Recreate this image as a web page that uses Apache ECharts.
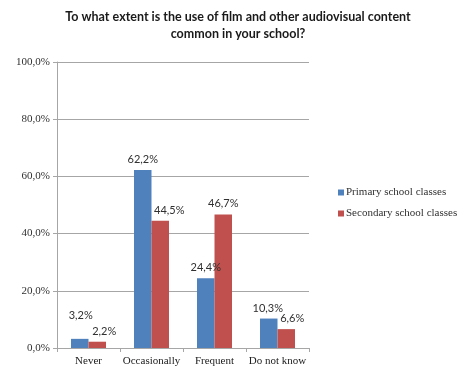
<!DOCTYPE html>
<html>
<head>
<meta charset="utf-8">
<script src="https://cdn.jsdelivr.net/npm/echarts@6/dist/echarts.min.js"></script>
<style>
  html, body { margin: 0; padding: 0; background: #fff; }
  #chart { width: 464px; height: 372px; }
</style>
</head>
<body>
<div id="chart"></div>
<script>
// Survey answers, share of respondents (%)
const categories = ['Never', 'Occasionally', 'Frequent', 'Do not know'];
const primaryValues = [3.2, 62.2, 24.4, 10.3];
const secondaryValues = [2.2, 44.5, 46.7, 6.6];
const seriesNames = ['Primary school classes', 'Secondary school classes'];
const yTicks = [0, 20, 40, 60, 80, 100];

// Hand-tuned value-label nudges (x, y in px) so neighbouring labels don't collide
const primaryLabelShift = [[1, -13], [0, 0], [0, 0], [-1, 0]];
const secondaryLabelShift = [[7, 0], [9, 0], [0, 0], [6, 0]];

const serifFont = '"Liberation Serif", "DejaVu Serif", serif';
const labelFont = 'Lato, "Open Sans", sans-serif';

const fmt = v => v.toFixed(1).replace('.', ',') + '%';

function barData(values, shifts) {
  return values.map((v, i) => ({ value: v, label: { offset: shifts[i] } }));
}

const valueLabel = {
  show: true, position: 'top', distance: 5,
  fontFamily: labelFont, fontSize: 11, color: '#303030',
  formatter: p => fmt(p.value)
};

const chart = echarts.init(document.getElementById('chart'));
chart.setOption({
  animation: false,
  title: {
    text: 'To what extent is the use of film and other audiovisual content\ncommon in your school?',
    left: 233,
    textAlign: 'center',
    top: 3,
    textStyle: {
      fontFamily: labelFont,
      fontWeight: 'bold',
      fontSize: 12.5,
      lineHeight: 17,
      color: '#1a1a1a'
    }
  },
  legend: {
    orient: 'vertical',
    left: 333,
    top: 182,
    itemWidth: 6,
    itemHeight: 6,
    itemGap: 10,
    icon: 'rect',
    textStyle: { fontFamily: serifFont, fontSize: 11, color: '#303030', padding: [0, 0, 0, -3] },
    data: seriesNames
  },
  grid: { left: 57, right: 155, top: 62, bottom: 24, containLabel: false },
  xAxis: {
    type: 'category',
    data: categories,
    axisLine: { lineStyle: { color: '#a6a6a6' } },
    axisTick: { show: true, length: 4, lineStyle: { color: '#a6a6a6' } },
    axisLabel: { fontFamily: serifFont, fontSize: 11, color: '#202020', margin: 8, interval: 0 }
  },
  yAxis: {
    type: 'value',
    min: yTicks[0],
    max: yTicks[yTicks.length - 1],
    interval: 20,
    axisLine: { show: true, lineStyle: { color: '#a6a6a6' } },
    axisTick: { show: true, length: 4, lineStyle: { color: '#a6a6a6' } },
    splitLine: { lineStyle: { color: '#a6a6a6' } },
    axisLabel: {
      fontFamily: serifFont, fontSize: 11, color: '#303030', margin: 7,
      formatter: v => fmt(v)
    }
  },
  series: [
    {
      name: seriesNames[0],
      type: 'bar',
      data: barData(primaryValues, primaryLabelShift),
      barWidth: 17.5,
      barGap: '0%',
      itemStyle: { color: '#4f81bd' },
      label: valueLabel
    },
    {
      name: seriesNames[1],
      type: 'bar',
      data: barData(secondaryValues, secondaryLabelShift),
      barWidth: 17.5,
      barGap: '0%',
      itemStyle: { color: '#c0504d' },
      label: valueLabel
    }
  ]
});
</script>
</body>
</html>
